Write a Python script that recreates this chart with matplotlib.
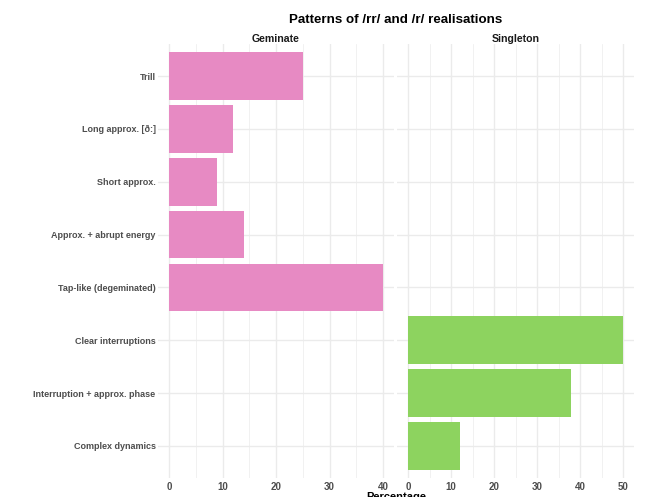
import matplotlib
matplotlib.use("Agg")
import matplotlib.pyplot as plt
from matplotlib.ticker import MultipleLocator

categories = ["Trill", "Long approx. [ð:]", "Short approx.", "Approx. + abrupt energy",
              "Tap-like (degeminated)", "Clear interruptions",
              "Interruption + approx. phase", "Complex dynamics"]
geminate_cats = ["Trill", "Long approx. [ð:]", "Short approx.", "Approx. + abrupt energy",
                 "Tap-like (degeminated)"]
geminate_vals = [25, 12, 9, 14, 40]
singleton_cats = ["Clear interruptions", "Interruption + approx. phase", "Complex dynamics"]
singleton_vals = [50, 38, 12]
geminate_ticks = [0, 10, 20, 30, 40]
singleton_ticks = [0, 10, 20, 30, 40, 50]

pink = "#E78AC3"
green = "#8DD35F"
grid_c = "#EBEBEB"
text_c = "#4D4D4D"
font = ["Liberation Sans", "DejaVu Sans"]
plt.rcParams["font.family"] = font

W, H = 656, 497
fig = plt.figure(figsize=(W / 100, H / 100), dpi=100)

ypos = {c: len(categories) - i for i, c in enumerate(categories)}

top_px, bot_px = 44.3, 477.7
def ax_at(x0, x1):
    return fig.add_axes([x0 / W, 1 - bot_px / H, (x1 - x0) / W, (bot_px - top_px) / H])

axL = ax_at(158.3, 393.7)
axR = ax_at(397.25, 633.75)

panels = [
    (axL, geminate_cats, geminate_vals, pink, 40, geminate_ticks, "Geminate"),
    (axR, singleton_cats, singleton_vals, green, 50, singleton_ticks, "Singleton"),
]
for ax, cats, vals, col, mx, ticks, strip in panels:
    ax.barh([ypos[c] for c in cats], vals, height=0.9, color=col, zorder=2)
    ax.set_xlim(-0.05 * mx, 1.05 * mx)
    ax.set_ylim(0.4, len(categories) + 0.6)
    ax.set_xticks(ticks)
    ax.xaxis.set_minor_locator(MultipleLocator(5))
    ax.set_yticks(range(1, len(categories) + 1))
    ax.grid(True, which="major", color=grid_c, linewidth=1.0, zorder=0)
    ax.grid(True, which="minor", axis="x", color=grid_c, linewidth=0.5, zorder=0)
    for s in ax.spines.values():
        s.set_visible(False)
    ax.tick_params(axis="both", which="both", length=0, pad=3)
    ax.tick_params(axis="x", labelsize=7, labelcolor=text_c)
    for lab in ax.get_xticklabels():
        lab.set_fontweight("bold")
    ax.set_title(strip, fontsize=7.6, fontweight="bold", color="#1A1A1A", pad=0.5)

axL.set_yticklabels(categories[::-1], fontsize=6.5, fontweight="bold", color=text_c)
axL.tick_params(axis="y", pad=2)
axR.set_yticklabels([])

fig.text((158.3 + 633.75) / 2 / W, 1 - 20 / H, "Patterns of /rr/ and /r/ realisations",
         ha="center", va="center", fontsize=9.6, fontweight="bold", color="black")
fig.text((158.3 + 633.75) / 2 / W, 1 - 497 / H, "Percentage",
         ha="center", va="center", fontsize=8, fontweight="bold", color="black")

fig.savefig("out.png", dpi=100, facecolor="white")
